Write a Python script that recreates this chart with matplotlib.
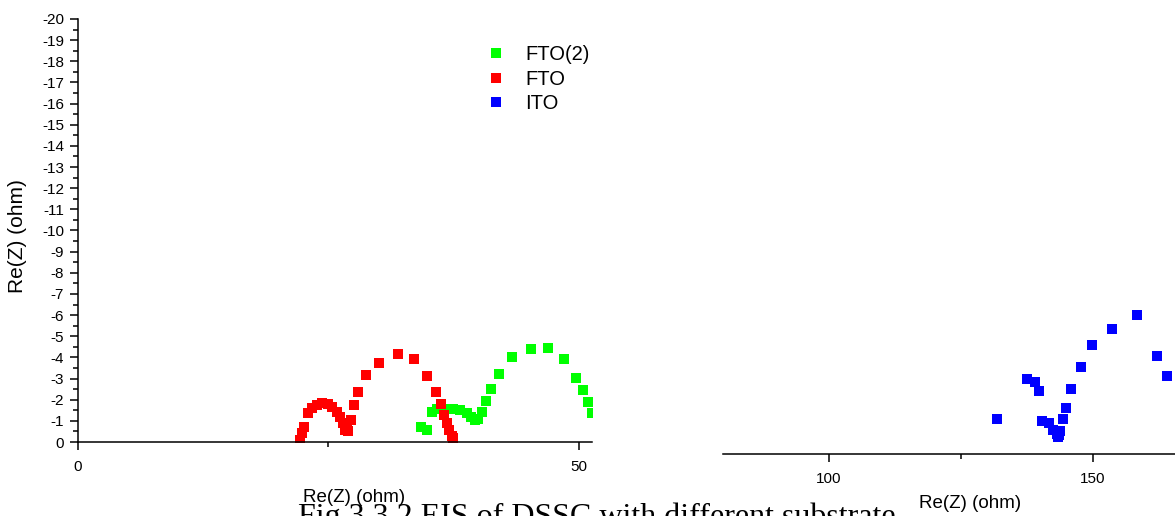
import numpy as np
import matplotlib.pyplot as plt
from matplotlib.ticker import MultipleLocator

plt.rcParams['font.family'] = ['Liberation Sans', 'DejaVu Sans']
plt.rcParams['axes.unicode_minus'] = False

# FTO(2) - green
fto2_re = [34.25, 34.83, 35.30, 35.80, 36.33, 36.83, 37.46, 38.12, 38.79, 39.22,
           39.62, 39.95, 40.29, 40.72, 41.19, 42.02, 43.28, 45.18, 46.94, 48.53,
           49.67, 50.43, 50.93, 51.27]
fto2_im = [0.72, 0.57, 1.43, 1.55, 1.56, 1.58, 1.55, 1.51, 1.36, 1.18,
           1.02, 1.07, 1.43, 1.95, 2.49, 3.22, 4.03, 4.38, 4.43, 3.91,
           3.04, 2.46, 1.91, 1.36]

# FTO - red
fto_re = [22.16, 22.33, 22.59, 22.92, 23.32, 23.82, 24.38, 24.92, 25.38, 25.82,
          26.15, 26.48, 26.60, 26.82, 26.95, 27.25, 27.54, 27.91, 28.71, 30.04,
          31.97, 33.56, 34.80, 35.70, 36.23, 36.53, 36.80, 37.06, 37.29, 37.46]
fto_im = [0.09, 0.43, 0.71, 1.39, 1.61, 1.75, 1.83, 1.80, 1.67, 1.43,
          1.18, 0.90, 0.57, 0.71, 0.52, 1.04, 1.75, 2.35, 3.17, 3.75,
          4.16, 3.92, 3.13, 2.38, 1.80, 1.28, 0.88, 0.57, 0.28, 0.17]

# ITO - blue
ito_re = [131.76, 137.56, 139.02, 139.77, 140.40, 141.72, 142.48, 143.13, 143.43, 143.62,
          143.75, 144.26, 144.89, 145.89, 147.67, 149.87, 153.54, 158.28, 162.06, 163.96]
ito_im = [1.64, 3.53, 3.42, 2.99, 1.57, 1.45, 1.13, 0.95, 0.82, 0.90,
          1.10, 1.64, 2.16, 3.06, 4.13, 5.15, 5.91, 6.57, 4.63, 3.69]

W, H = 1175, 516
fig = plt.figure(figsize=(W / 100, H / 100), dpi=100)
ax1 = fig.add_axes([78 / W, 74 / H, 514 / W, 423 / H])
ax2 = fig.add_axes([723 / W, 62 / H, 452 / W, 423 / H])

ms = 6.8
l_g, = ax1.plot(fto2_re, -np.array(fto2_im), 's', color='#00ff00', ms=ms, mew=0, label='FTO(2)')
l_r, = ax1.plot(fto_re, -np.array(fto_im), 's', color='#ff0000', ms=ms, mew=0, label='FTO')
l_b, = ax2.plot(ito_re, -np.array(ito_im), 's', color='#0000ff', ms=ms, mew=0, label='ITO')

for ax in (ax1, ax2):
    ax.set_ylim(0, -20)
    for s in ('top', 'right'):
        ax.spines[s].set_visible(False)
    for s in ('left', 'bottom'):
        ax.spines[s].set_linewidth(1.1)
    ax.tick_params(which='major', length=6, width=1.1, labelsize=11, pad=4)
    ax.tick_params(which='minor', length=3.5, width=1.1)
    ax.xaxis.set_minor_locator(MultipleLocator(25))
    ax.xaxis.set_major_locator(MultipleLocator(50))
    ax.tick_params(axis='x', which='major', pad=7)

ax1.set_xlim(0, 51.3)
ax1.yaxis.set_major_locator(MultipleLocator(1))
ax1.yaxis.set_minor_locator(MultipleLocator(0.5))

ax2.set_xlim(80, 165.5)
ax2.spines['left'].set_visible(False)
ax2.set_yticks([])

ax1.legend(handles=[l_g, l_r, l_b], loc='upper left', bbox_to_anchor=(486 / W, 1 - 45 / H),
           bbox_transform=fig.transFigure, frameon=False, fontsize=14.5, handlelength=1.0,
           handletextpad=0.95, borderpad=0, borderaxespad=0, labelspacing=0.28, markerscale=1.05)

fig.text(18 / W, 1 - 236 / H, 'Re(Z) (ohm)', rotation=90, ha='center', va='center', fontsize=15)
fig.text(354 / W, 1 - 497 / H, 'Re(Z) (ohm)', ha='center', va='center', fontsize=13.5)
fig.text(970 / W, 1 - 503 / H, 'Re(Z) (ohm)', ha='center', va='center', fontsize=13.5)
fig.text(298 / W, 1 - 525 / H, 'Fig.3.3.2 EIS of DSSC with different substrate',
         ha='left', va='baseline', fontsize=23, family=['Liberation Serif', 'DejaVu Serif'])

fig.savefig('out.png', dpi=100)
